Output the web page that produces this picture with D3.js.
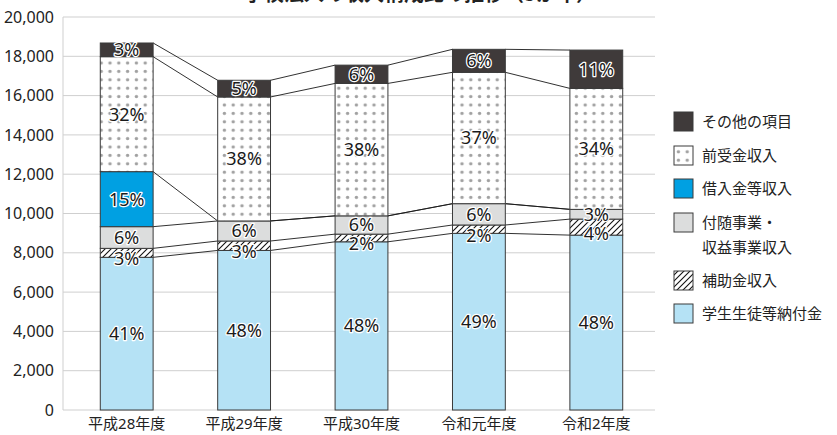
<!DOCTYPE html>
<html>
<head>
<meta charset="utf-8">
<script src="https://cdn.jsdelivr.net/npm/d3@7"></script>
<style>
  body { margin: 0; background: #fff; }
  text { font-family: "Noto Sans", "Noto Sans CJK JP", sans-serif; }
  .jp { font-family: "Noto Sans CJK JP", sans-serif; }
</style>
</head>
<body>
<div id="chart-area"></div>
<script>
// SVG Size
var width = 837,
	height = 435;

// data
var years = ["平成28年度", "平成29年度", "平成30年度", "令和元年度", "令和2年度"];
var seriesNames = ["学生生徒等納付金", "補助金収入", "付随事業・収益事業収入", "借入金等収入", "前受金収入", "その他の項目"];
var legendNames = ["その他の項目", "前受金収入", "借入金等収入", "付随事業・\n収益事業収入", "補助金収入", "学生生徒等納付金"];

var tuition   = [7770, 8120, 8560, 8990, 8900];
var subsidy   = [456, 480, 390, 425, 815];
var ancillary = [1104, 1020, 930, 1085, 495];
var loans     = [2800, 0, 0, 0, 0];
var advance   = [5850, 6310, 6740, 6685, 6157];
var other     = [697, 850, 930, 1170, 1950];

var tuitionPct   = ["41%", "48%", "48%", "49%", "48%"];
var subsidyPct   = ["3%", "3%", "2%", "2%", "4%"];
var ancillaryPct = ["6%", "6%", "6%", "6%", "3%"];
var loansPct     = ["15%", "", "", "", ""];
var advancePct   = ["32%", "38%", "38%", "37%", "34%"];
var otherPct     = ["3%", "5%", "6%", "6%", "11%"];

var yTicks = [0, 2000, 4000, 6000, 8000, 10000, 12000, 14000, 16000, 18000, 20000];

var allValues = [tuition, subsidy, ancillary, loans, advance, other];
var allPct = [tuitionPct, subsidyPct, ancillaryPct, loansPct, advancePct, otherPct];
var fills = ["#b5e2f5", "url(#hatch)", "#dcdddd", "#00a0e2", "url(#dots)", "#3f3a3a"];

// table for d3.stack
var rows = years.map(function(y, i) {
	var r = { year: y };
	seriesNames.forEach(function(s, k) { r[s] = allValues[k][i]; });
	return r;
});
var stacked = d3.stack().keys(seriesNames)(rows);

var svg = d3.select('#chart-area')
	.append("svg")
	.attr("width", width)
	.attr("height", height);

var defs = svg.append("defs");
var hatch = defs.append("pattern")
	.attr("id", "hatch")
	.attr("patternUnits", "userSpaceOnUse")
	.attr("width", 6).attr("height", 6);
hatch.append("rect").attr("width", 6).attr("height", 6).attr("fill", "#fff");
hatch.append("path")
	.attr("d", "M0,6 L6,0 M-1,1 L1,-1 M5,7 L7,5")
	.attr("stroke", "#111").attr("stroke-width", 1.1);

var dots = defs.append("pattern")
	.attr("id", "dots")
	.attr("patternUnits", "userSpaceOnUse")
	.attr("width", 8.8).attr("height", 8.4);
dots.append("rect").attr("width", 8.8).attr("height", 8.4).attr("fill", "#fff");
dots.append("circle").attr("cx", 4.4).attr("cy", 4.2).attr("r", 1.7).attr("fill", "#a0a0a0");

// scales
var x = d3.scaleBand().domain(years).range([68, 655]).paddingInner(0.55).paddingOuter(0.275);
var y = d3.scaleLinear().domain([0, 20000]).range([410, 17]);

// title (cut off at the top in the original)
svg.append("text")
	.attr("class", "jp")
	.attr("x", 420).attr("y", 1)
	.attr("text-anchor", "middle")
	.attr("font-size", 20).attr("font-weight", "bold")
	.attr("fill", "#222")
	.text("学校法人の収入構成比の推移（5か年）");

// grid
svg.append("g").selectAll("line")
	.data(yTicks)
	.enter().append("line")
	.attr("x1", 63).attr("x2", 655)
	.attr("y1", function(d) { return y(d); })
	.attr("y2", function(d) { return y(d); })
	.attr("stroke", "#cfcfcf").attr("stroke-width", 1);

svg.append("line")
	.attr("x1", 63).attr("x2", 63)
	.attr("y1", y(20000)).attr("y2", y(0))
	.attr("stroke", "#cfcfcf");

// y axis labels
var yAxis = d3.axisLeft(y).tickValues(yTicks).tickSize(0).tickPadding(0)
	.tickFormat(d3.format(","));
svg.append("g")
	.attr("class", "axis y-axis")
	.attr("transform", "translate(54, 0)")
	.call(yAxis)
	.call(function(g) { g.select(".domain").remove(); })
	.selectAll("text")
	.attr("font-size", 16)
	.attr("fill", "#222")
	.attr("font-family", "Noto Sans");

// x axis labels
var xAxis = d3.axisBottom(x).tickSize(0).tickPadding(0);
svg.append("g")
	.attr("class", "axis x-axis")
	.attr("transform", "translate(0, 418)")
	.call(xAxis)
	.call(function(g) { g.select(".domain").remove(); })
	.selectAll("text")
	.attr("font-size", 15)
	.attr("fill", "#222")
	.attr("font-family", "Noto Sans CJK JP");

// connecting lines between bars
stacked.forEach(function(layer) {
	for (var i = 0; i < years.length - 1; i++) {
		svg.append("line")
			.attr("x1", x(years[i]) + x.bandwidth())
			.attr("y1", y(layer[i][1]))
			.attr("x2", x(years[i + 1]))
			.attr("y2", y(layer[i + 1][1]))
			.attr("stroke", "#1a1a1a")
			.attr("stroke-width", 0.9);
	}
});

// bars
var layers = svg.append("g").selectAll("g")
	.data(stacked)
	.enter().append("g")
	.attr("fill", function(d, k) { return fills[k]; });

layers.selectAll("rect")
	.data(function(d) { return d; })
	.enter().append("rect")
	.filter(function(d) { return d[1] - d[0] > 0; })
	.attr("x", function(d) { return x(d.data.year); })
	.attr("y", function(d) { return y(d[1]); })
	.attr("width", x.bandwidth())
	.attr("height", function(d) { return y(d[0]) - y(d[1]); })
	.attr("stroke", "#3a3a3a")
	.attr("stroke-width", 1);

// percentage labels
stacked.forEach(function(layer, k) {
	layer.forEach(function(d, i) {
		var label = allPct[k][i];
		if (!label) return;
		var dy = (k === 1) ? 6 : 0;
		svg.append("text")
			.attr("x", x(years[i]) + x.bandwidth() / 2)
			.attr("y", (y(d[0]) + y(d[1])) / 2 + dy)
			.attr("dy", "0.36em")
			.attr("text-anchor", "middle")
			.attr("font-size", 18)
			.attr("fill", "#1a1a1a")
			.attr("stroke", "#fff")
			.attr("stroke-width", 2.5)
			.attr("stroke-linejoin", "round")
			.attr("paint-order", "stroke")
			.text(label);
	});
});

// legend
var legendY = [122, 156, 189, 223, 281, 314];
var legendFills = fills.slice().reverse();
var legend = svg.append("g").selectAll("g")
	.data(legendNames)
	.enter().append("g")
	.attr("transform", function(d, i) { return "translate(674," + legendY[i] + ")"; });

legend.append("rect")
	.attr("x", 0).attr("y", -10)
	.attr("width", 19).attr("height", 19)
	.attr("fill", function(d, i) { return legendFills[i]; })
	.attr("stroke", "#3a3a3a");

legend.each(function(d) {
	var t = d3.select(this).append("text")
		.attr("class", "jp")
		.attr("x", 28)
		.attr("font-size", 15)
		.attr("fill", "#222");
	d.split("\n").forEach(function(part, j) {
		t.append("tspan")
			.attr("x", 28)
			.attr("y", j * 25)
			.attr("dy", "0.35em")
			.text(part);
	});
});
</script>
</body>
</html>
